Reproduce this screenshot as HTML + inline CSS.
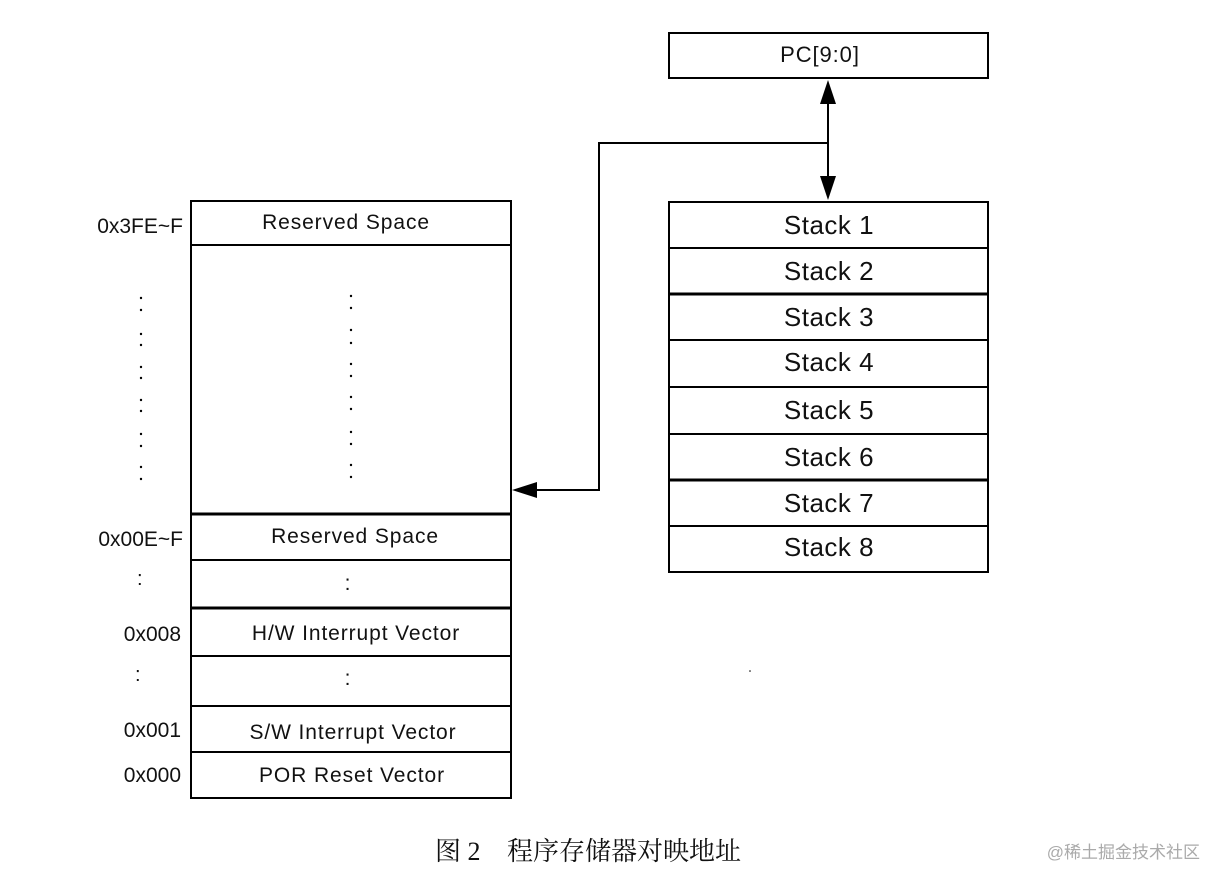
<!DOCTYPE html>
<html><head><meta charset="utf-8"><style>
html,body{margin:0;padding:0;background:#fff;width:1205px;height:869px;overflow:hidden}
svg{display:block}
text{font-family:"Liberation Sans",Arial,sans-serif;fill:#111}
</style></head><body>
<svg width="1205" height="869" viewBox="0 0 1205 869" xmlns="http://www.w3.org/2000/svg">
<g fill="none" stroke="#000" stroke-width="2">
<rect x="191" y="201" width="320" height="597"/>
<line x1="191" y1="245" x2="511" y2="245"/>
<line x1="191" y1="514" x2="511" y2="514" stroke-width="3"/>
<line x1="191" y1="560" x2="511" y2="560"/>
<line x1="191" y1="608" x2="511" y2="608" stroke-width="3"/>
<line x1="191" y1="656" x2="511" y2="656"/>
<line x1="191" y1="706" x2="511" y2="706"/>
<line x1="191" y1="752" x2="511" y2="752"/>
<rect x="669" y="33" width="319" height="45"/>
<rect x="669" y="202" width="319" height="370"/>
<line x1="669" y1="248" x2="988" y2="248"/>
<line x1="669" y1="294" x2="988" y2="294" stroke-width="3"/>
<line x1="669" y1="340" x2="988" y2="340"/>
<line x1="669" y1="387" x2="988" y2="387"/>
<line x1="669" y1="434" x2="988" y2="434"/>
<line x1="669" y1="480" x2="988" y2="480" stroke-width="3"/>
<line x1="669" y1="526" x2="988" y2="526"/>
<polyline points="828,100 828,180"/>
<polyline points="828,143 599,143 599,490 535,490"/>
</g>
<polygon points="828,80 820,104 836,104" fill="#000"/>
<polygon points="828,200 820,176 836,176" fill="#000"/>
<polygon points="512,490 537,482 537,498" fill="#000"/>
<g fill="#000">
<circle cx="141" cy="298" r="1.2"/><circle cx="141" cy="310" r="1.2"/>
<circle cx="141" cy="334" r="1.2"/><circle cx="141" cy="345" r="1.2"/>
<circle cx="141" cy="367" r="1.2"/><circle cx="141" cy="378" r="1.2"/>
<circle cx="141" cy="400" r="1.2"/><circle cx="141" cy="411" r="1.2"/>
<circle cx="141" cy="434" r="1.2"/><circle cx="141" cy="446" r="1.2"/>
<circle cx="141" cy="467" r="1.2"/><circle cx="141" cy="479" r="1.2"/>
<circle cx="351" cy="296" r="1.2"/><circle cx="351" cy="308" r="1.2"/>
<circle cx="351" cy="330" r="1.2"/><circle cx="351" cy="343" r="1.2"/>
<circle cx="351" cy="364" r="1.2"/><circle cx="351" cy="376" r="1.2"/>
<circle cx="351" cy="397" r="1.2"/><circle cx="351" cy="409" r="1.2"/>
<circle cx="351" cy="432" r="1.2"/><circle cx="351" cy="444" r="1.2"/>
<circle cx="351" cy="465" r="1.2"/><circle cx="351" cy="477" r="1.2"/>
<circle cx="750" cy="671" r="0.8"/>
</g>
<g font-size="21" text-anchor="middle" letter-spacing="0.9">
<text x="346" y="229">Reserved Space</text>
<text x="355" y="543">Reserved Space</text>
<text x="348" y="590">:</text>
<text x="356" y="640">H/W Interrupt Vector</text>
<text x="348" y="685">:</text>
<text x="353" y="739">S/W Interrupt Vector</text>
<text x="352" y="782">POR Reset Vector</text>
<text x="820" y="62" font-size="22">PC[9:0]</text>
</g>
<g font-size="21" text-anchor="end">
<text x="183" y="233">0x3FE~F</text>
<text x="183" y="546">0x00E~F</text>
<text x="181" y="641">0x008</text>
<text x="181" y="737">0x001</text>
<text x="181" y="782">0x000</text>
</g>
<g font-size="20">
<text x="137" y="585">:</text>
<text x="135" y="681">:</text>
</g>
<g font-size="26" text-anchor="middle" letter-spacing="0.5">
<text x="829" y="234">Stack 1</text>
<text x="829" y="280">Stack 2</text>
<text x="829" y="326">Stack 3</text>
<text x="829" y="371">Stack 4</text>
<text x="829" y="419">Stack 5</text>
<text x="829" y="466">Stack 6</text>
<text x="829" y="512">Stack 7</text>
<text x="829" y="556">Stack 8</text>
</g>
<text x="435" y="860" font-size="26" style="font-family:'Liberation Serif','Noto Serif CJK SC',serif">图 2 <tspan x="507">程序存储器对映地址</tspan></text>
<text x="1200" y="858" font-size="17" text-anchor="end" style="font-family:'Liberation Sans','Noto Sans CJK SC',sans-serif;fill:#aaa">@稀土掘金技术社区</text>
</svg>
</body></html>
